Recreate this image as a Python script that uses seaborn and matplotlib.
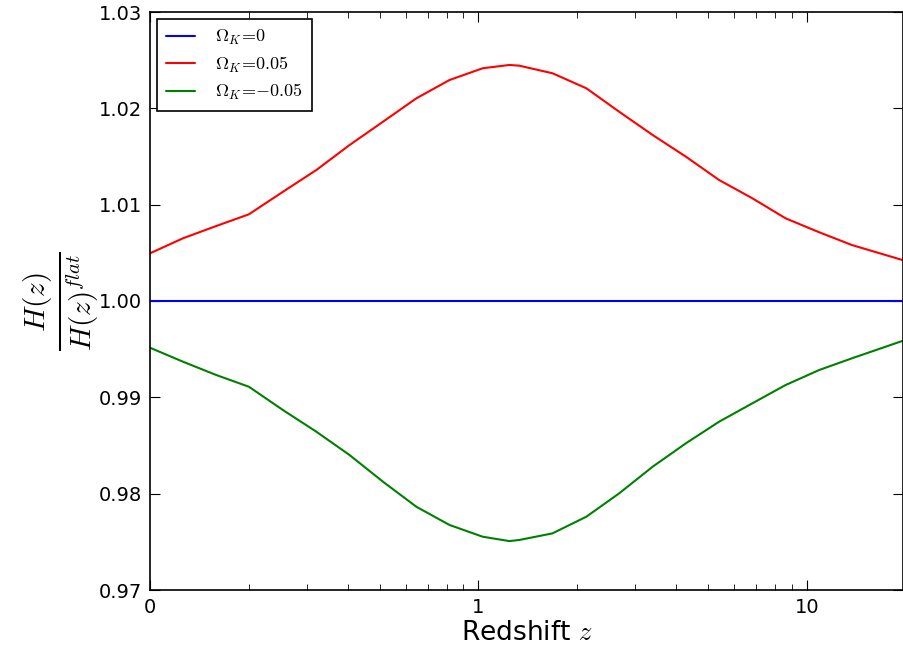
import numpy as np
import pandas as pd
import matplotlib
matplotlib.use("Agg")
import matplotlib.pyplot as plt
import matplotlib.ticker as mticker
import seaborn as sns

# Data
z = [0.1, 0.126, 0.159, 0.2, 0.254, 0.321, 0.405, 0.512, 0.647, 0.816, 1.03, 1.24,
     1.33, 1.68, 2.13, 2.68, 3.39, 4.28, 5.4, 6.82, 8.61, 10.9, 13.7, 19.5]
h_flat = [1.0] * len(z)
h_open = [1.00495, 1.00651, 1.00778, 1.0090, 1.01134, 1.0136, 1.01619, 1.01861,
          1.02104, 1.02294, 1.02416, 1.02450, 1.02443, 1.02364, 1.02208, 1.01965,
          1.01723, 1.01498, 1.01256, 1.01066, 1.00858, 1.00713, 1.00581, 1.00426]
h_closed = [0.99515, 0.9937, 0.99232, 0.99110, 0.98868, 0.98643, 0.98401, 0.98124,
            0.97864, 0.97675, 0.97553, 0.97508, 0.97519, 0.97588, 0.97761, 0.98003,
            0.98280, 0.98523, 0.98747, 0.98938, 0.99128, 0.99284, 0.99405, 0.99585]
labels = [r'$\Omega_K\!=\!0$', r'$\Omega_K\!=\!0.05$', r'$\Omega_K\!=\!{-}0.05$']
colors = ['#0000ff', '#ff0000', '#008000']
xticks = [0.1, 1, 10]
xticklabels = ['0', '1', '10']
yticks = [0.97, 0.98, 0.99, 1.00, 1.01, 1.02, 1.03]

df = pd.concat([
    pd.DataFrame({'z': z, 'H': h_flat, 'model': labels[0]}),
    pd.DataFrame({'z': z, 'H': h_open, 'model': labels[1]}),
    pd.DataFrame({'z': z, 'H': h_closed, 'model': labels[2]}),
])

sns.set_style('white')
plt.rcParams['mathtext.fontset'] = 'cm'
plt.rcParams['font.family'] = ['DejaVu Sans']
plt.rcParams['text.color'] = 'black'
plt.rcParams['axes.labelcolor'] = 'black'
plt.rcParams['xtick.color'] = 'black'
plt.rcParams['ytick.color'] = 'black'

fig = plt.figure(figsize=(9.04, 6.5), dpi=100)
ax = fig.add_axes([150/904, 60/650, 753/904, 578/650])

sns.lineplot(data=df, x='z', y='H', hue='model', palette=dict(zip(labels, colors)),
             hue_order=labels, linewidth=1.5, ax=ax, sort=False)

ax.set_xscale('log')
ax.set_xlim(0.1, 19.6)
ax.set_ylim(0.97, 1.03)
ax.xaxis.set_major_locator(mticker.FixedLocator(xticks))
ax.xaxis.set_major_formatter(mticker.FixedFormatter(xticklabels))
ax.xaxis.set_minor_locator(mticker.LogLocator(base=10, subs=np.arange(2, 10)))
ax.xaxis.set_minor_formatter(mticker.NullFormatter())
ax.set_yticks(yticks)
ax.yaxis.set_major_formatter(mticker.FormatStrFormatter('%.2f'))

ax.tick_params(which='both', direction='in', top=True, right=True, bottom=True, left=True,
               labelsize=14, color='black', labelcolor='black')
ax.tick_params(which='major', length=7, width=0.8, pad=6)
ax.tick_params(which='minor', length=4, width=0.6)
for s in ax.spines.values():
    s.set_color('black')
    s.set_linewidth(1.2)

ax.set_xlabel(r'Redshift $z$', fontsize=19, labelpad=2, color='black')
ax.set_ylabel(r'$\frac{H(z)}{H(z)^{flat}}$', fontsize=30, labelpad=-2, color='black')

leg = ax.legend(loc='upper left', fontsize=13, frameon=True, fancybox=False,
                edgecolor='black', framealpha=1, borderpad=0.5, handlelength=1.6,
                handletextpad=1.1, labelspacing=0.4, borderaxespad=0.4)
leg.get_frame().set_linewidth(1.2)

fig.savefig('out.png', dpi=100)
